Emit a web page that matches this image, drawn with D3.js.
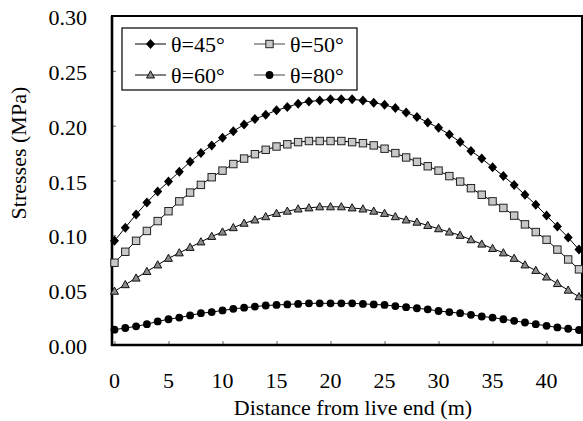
<!DOCTYPE html>
<html><head><meta charset="utf-8">
<script src="https://cdn.jsdelivr.net/npm/d3@7"></script>
<style>body{margin:0;background:#fff}svg{display:block}</style>
</head><body><svg id="c" width="583" height="421" font-family="'Liberation Serif', 'Times New Roman', Times, serif"></svg>
<script>
const distance = [0,1,2,3,4,5,6,7,8,9,10,11,12,13,14,15,16,17,18,19,20,21,22,23,24,25,26,27,28,29,30,31,32,33,34,35,36,37,38,39,40,41,42,43];
const theta45 = [0.095,0.107,0.119,0.130,0.140,0.149,0.158,0.167,0.175,0.182,0.189,0.195,0.201,0.206,0.210,0.214,0.217,0.220,0.222,0.223,0.224,0.224,0.224,0.223,0.221,0.219,0.216,0.212,0.208,0.203,0.198,0.192,0.185,0.177,0.170,0.162,0.154,0.146,0.137,0.128,0.118,0.108,0.098,0.087];
const theta50 = [0.075,0.085,0.095,0.104,0.113,0.122,0.131,0.139,0.146,0.153,0.159,0.165,0.170,0.174,0.178,0.181,0.183,0.185,0.186,0.186,0.186,0.186,0.185,0.184,0.182,0.179,0.175,0.171,0.167,0.163,0.159,0.154,0.149,0.143,0.137,0.131,0.125,0.118,0.110,0.103,0.096,0.087,0.078,0.069];
const theta60 = [0.049,0.055,0.061,0.067,0.073,0.079,0.084,0.089,0.094,0.099,0.103,0.107,0.111,0.114,0.117,0.120,0.122,0.124,0.125,0.126,0.126,0.126,0.125,0.124,0.122,0.120,0.117,0.114,0.112,0.109,0.106,0.103,0.100,0.096,0.092,0.088,0.084,0.079,0.073,0.068,0.062,0.056,0.050,0.044];
const theta80 = [0.014,0.0155,0.017,0.019,0.0215,0.0235,0.025,0.027,0.029,0.030,0.0315,0.033,0.034,0.035,0.036,0.0365,0.037,0.0375,0.038,0.038,0.038,0.038,0.038,0.0375,0.037,0.0365,0.0355,0.0345,0.0335,0.0325,0.031,0.030,0.029,0.0275,0.026,0.025,0.0235,0.022,0.0205,0.019,0.0175,0.016,0.0148,0.0137];
const seriesNames = ["θ=45°","θ=50°","θ=60°","θ=80°"];
const xTicks = [0,5,10,15,20,25,30,35,40];
const yTicks = [0,0.05,0.10,0.15,0.20,0.25,0.30];

const FONT = "'Liberation Serif', 'Times New Roman', Times, serif";
const svg = d3.select("#c");
const L = 112, R = 582, T = 16, B = 345;
const x = d3.scaleLinear().domain([-0.23, 43.28]).range([L, R]);
const y = d3.scaleLinear().domain([0, 0.30]).range([B, T]);

// ticks (inner)
const yAx = svg.append("g").attr("transform", `translate(${L},0)`)
  .call(d3.axisRight(y).tickValues(yTicks).tickSize(4).tickFormat(""));
yAx.select(".domain").remove();
yAx.selectAll("line").attr("stroke", "#666");
const xAx = svg.append("g").attr("transform", `translate(0,${B})`)
  .call(d3.axisTop(x).tickValues(xTicks).tickSize(4).tickFormat(""));
xAx.select(".domain").remove();
xAx.selectAll("line").attr("stroke", "#666");

// tick labels
svg.append("g").selectAll("text").data(yTicks).join("text")
  .attr("font-family", FONT)
  .attr("x", 87).attr("y", d => y(d) + 9).attr("text-anchor", "end")
  .attr("font-size", 22)
  .text(d => d3.format(".2f")(d));
svg.append("g").selectAll("text").data(xTicks).join("text")
  .attr("font-family", FONT)
  .attr("x", d => x(d)).attr("y", 388).attr("text-anchor", "middle")
  .attr("font-size", 22).text(d => d);

// frame
svg.append("rect").attr("x", L).attr("y", T).attr("width", R - L).attr("height", B - T)
  .attr("fill", "none").attr("stroke", "#000").attr("stroke-width", 2);
svg.append("line").attr("x1", L).attr("x2", L).attr("y1", T).attr("y2", B + 1).attr("stroke", "#000").attr("stroke-width", 2.6);
svg.append("line").attr("x1", L - 1).attr("x2", R).attr("y1", B).attr("y2", B).attr("stroke", "#000").attr("stroke-width", 2.6);

// axis titles
svg.append("text").attr("font-family", FONT).attr("x", (L + R) / 2 + 6).attr("y", 415).attr("text-anchor", "middle")
  .attr("font-size", 22).text("Distance from live end (m)");
svg.append("text").attr("font-family", FONT).attr("transform", `translate(26,${y(0.175)}) rotate(-90)`)
  .attr("text-anchor", "middle").attr("font-size", 22).text("Stresses (MPa)");

// marker drawing
function marker(g, type) {
  if (type === 0) {
    g.append("path").attr("d", "M0,-5L4.5,0L0,5L-4.5,0Z").attr("fill", "#000");
  } else if (type === 1) {
    g.append("rect").attr("x", -3.7).attr("y", -3.7).attr("width", 7.4).attr("height", 7.4)
      .attr("fill", "#c8c8c8").attr("stroke", "#222").attr("stroke-width", 1);
  } else if (type === 2) {
    g.append("path").attr("d", "M0,-4.2L4,3L-4,3Z").attr("fill", "#8a8a8a").attr("stroke", "#111").attr("stroke-width", 1);
  } else {
    g.append("circle").attr("r", 3.9).attr("fill", "#000");
  }
}

const allSeries = [theta45, theta50, theta60, theta80];
const line = d3.line().x(d => x(d[0])).y(d => y(d[1]));
allSeries.forEach((vals, k) => {
  const pts = distance.map((d, i) => [d, vals[i]]);
  svg.append("path").datum(pts).attr("d", line).attr("fill", "none")
    .attr("stroke", "#000").attr("stroke-width", 1);
  const gp = svg.append("g");
  pts.forEach(p => {
    const m = gp.append("g").attr("transform", `translate(${x(p[0])},${y(p[1])})`);
    marker(m, k);
  });
});

// legend
const lg = svg.append("g");
lg.append("rect").attr("x", 122).attr("y", 28).attr("width", 235).attr("height", 62)
  .attr("fill", "#fff").attr("stroke", "#000").attr("stroke-width", 1.2);
const legPos = [[135, 44], [254, 44], [135, 75], [254, 75]];
seriesNames.forEach((name, k) => {
  const [lx, ly] = legPos[k];
  lg.append("line").attr("x1", lx).attr("x2", lx + 31).attr("y1", ly).attr("y2", ly)
    .attr("stroke", k % 2 ? "#444" : "#000").attr("stroke-width", 1);
  marker(lg.append("g").attr("transform", `translate(${lx + 15.5},${ly})`), k);
  lg.append("text").attr("font-family", FONT).attr("x", lx + 36).attr("y", ly + 8)
    .attr("font-size", 22).text(name);
});
</script></body></html>
